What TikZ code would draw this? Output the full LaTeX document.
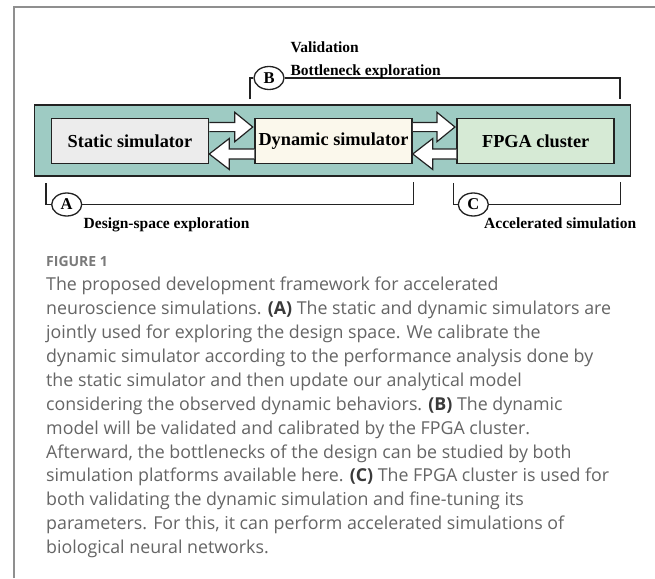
\documentclass[tikz,border=0pt]{standalone}
\usepackage{fontspec}
\usetikzlibrary{calc,shapes.geometric}
\newfontfamily\tnr{Liberation Serif}
\newfontfamily\osans{Open Sans}
\definecolor{tealbar}{HTML}{9ECBC3}
\definecolor{staticfill}{HTML}{ECECEC}
\definecolor{dynfill}{HTML}{FBF8EC}
\definecolor{fpgafill}{HTML}{D6EAD5}
\definecolor{inkdark}{HTML}{222222}
\definecolor{framegray}{HTML}{8F8F8F}
\definecolor{captext}{HTML}{656565}
\definecolor{capbold}{HTML}{3A3A3A}
\definecolor{capfig}{HTML}{7A7A7A}
\tikzset{
  simbox/.style={draw=inkdark, line width=1.5pt, minimum width=157pt, minimum height=45pt, inner sep=0pt,
    font=\tnr\bfseries\fontsize{18.3}{18.3}\selectfont, text=black},
  barrow/.style={draw=inkdark, line width=1.2pt, fill=white, line join=miter},
  ell/.style={ellipse, draw=inkdark, line width=1.3pt, fill=white, minimum width=30pt, minimum height=23pt,
    inner sep=0pt, font=\tnr\bfseries\fontsize{16.5}{16.5}\selectfont},
  bracket/.style={draw=inkdark, line width=1.5pt},
  lab/.style={anchor=base west, inner sep=0pt, font=\tnr\bfseries\fontsize{15.5}{15.5}\selectfont},
  capline/.style={anchor=base west, inner sep=0pt, text=captext, font=\osans\fontsize{17.8}{17.8}\selectfont},
}
\newcommand{\rblockarrow}[3]{%
  \draw[barrow] ($(#1.east)+(0pt,#3+4.6pt)$) -- ($(#2.west)+(-19.5pt,#3+4.6pt)$)
    -- ($(#2.west)+(-19.5pt,#3+14.7pt)$) -- ($(#2.west)+(-1.5pt,#3)$)
    -- ($(#2.west)+(-19.5pt,#3-14.7pt)$) -- ($(#2.west)+(-19.5pt,#3-4.6pt)$)
    -- ($(#1.east)+(0pt,#3-4.6pt)$);}
\newcommand{\lblockarrow}[3]{%
  \draw[barrow] ($(#1.west)+(0pt,#3+5pt)$) -- ($(#2.east)+(20pt,#3+5pt)$)
    -- ($(#2.east)+(20pt,#3+15.5pt)$) -- ($(#2.east)+(0pt,#3)$)
    -- ($(#2.east)+(20pt,#3-15.5pt)$) -- ($(#2.east)+(20pt,#3-5pt)$)
    -- ($(#1.west)+(0pt,#3-5pt)$);}
\begin{document}
\begin{tikzpicture}[x=1pt,y=-1pt]
\useasboundingbox (0,0) rectangle (655,578);
\fill[white] (0,0) rectangle (655,578);
% frame
\draw[framegray, line width=2pt] (14,578) -- (14,7.5) -- (655,7.5);
% teal bar
\node[draw=inkdark, line width=1.5pt, fill=tealbar, minimum width=596.4pt, minimum height=71pt, inner sep=0pt] (bar) at (332.5,140.5) {};
% boxes
\node[simbox, fill=staticfill] (s) at (130,140.8) {Static simulator};
\node[simbox, fill=dynfill] (d) at (333.5,140.8) {Dynamic simulator};
\node[simbox, fill=fpgafill] (f) at (535.7,140.8) {FPGA cluster};
% block arrows
\rblockarrow{s}{d}{13.8pt}
\lblockarrow{d}{s}{-13.2pt}
\rblockarrow{d}{f}{13.8pt}
\lblockarrow{f}{d}{-13.2pt}
% ellipses
\node[ell] (eb) at (269,78) {B};
\node[ell] (ea) at (66.7,204.5) {A};
\node[ell] (ec) at (473.3,204.5) {C};
% bracket ends
\coordinate (b1) at (250,99.3);
\coordinate (b2) at (620,99.3);
\coordinate (a1) at (46,183);
\coordinate (a2) at (413.5,182);
\coordinate (c1) at (453.3,183);
\coordinate (c2) at (620.5,182);
\draw[bracket] (b1) |- (eb.west);
\draw[bracket] (eb.east) -| (b2);
\draw[bracket] (a1) |- (ea.west);
\draw[bracket] (ea.east) -| (a2);
\draw[bracket] (c1) |- (ec.west);
\draw[bracket] (ec.east) -| (c2);
% labels
\node[lab] (lv) at (290.3,52.7) {Validation};
\node[lab] (lbn) at (290.3,75.5) {Bottleneck exploration};
\node[lab] (lds) at (83.5,228) {Design-space exploration};
\node[lab] (lac) at (484,228) {Accelerated simulation};
% caption
\node[anchor=base west, inner sep=0pt, text=capfig, font=\osans\bfseries\fontsize{14}{14}\selectfont] (fig) at (46,266.7) {FIGURE 1};
\node[capline] (c01) at (46,290.7) {The proposed development framework for accelerated};
\node[capline] (c02) at (46,314.6) {neuroscience simulations. \textcolor{capbold}{\bfseries (A)} The static and dynamic simulators are};
\node[capline] (c03) at (46,338.5) {jointly used for exploring the design space. We calibrate the};
\node[capline] (c04) at (46,362.4) {dynamic simulator according to the performance analysis done by};
\node[capline] (c05) at (46,386.3) {the static simulator and then update our analytical model};
\node[capline] (c06) at (46,410.2) {considering the observed dynamic behaviors. \textcolor{capbold}{\bfseries (B)} The dynamic};
\node[capline] (c07) at (46,434.1) {model will be validated and calibrated by the FPGA cluster.};
\node[capline] (c08) at (46,458.0) {Afterward, the bottlenecks of the design can be studied by both};
\node[capline] (c09) at (46,481.9) {simulation platforms available here. \textcolor{capbold}{\bfseries (C)} The FPGA cluster is used for};
\node[capline] (c10) at (46,505.8) {both validating the dynamic simulation and fine-tuning its};
\node[capline] (c11) at (46,529.7) {parameters. For this, it can perform accelerated simulations of};
\node[capline] (c12) at (46,553.6) {biological neural networks.};
\end{tikzpicture}
\end{document}
